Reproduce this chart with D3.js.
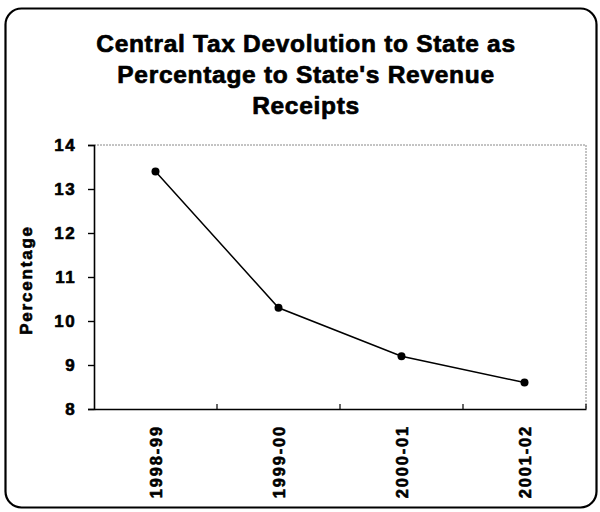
<!DOCTYPE html>
<html>
<head>
<meta charset="utf-8">
<script src="https://cdn.jsdelivr.net/npm/d3@7"></script>
<style>
  html, body { margin: 0; padding: 0; background: #fff; }
  svg text { font-family: "Liberation Sans", Arial, sans-serif; font-weight: bold; fill: #000; }
</style>
</head>
<body>
<svg id="chart" width="600" height="512"></svg>
<script>
// Fiscal years on the category axis
const years = ["1998-99", "1999-00", "2000-01", "2001-02"];
// Central tax devolution as % of state's revenue receipts
const shares = [13.4, 10.3, 9.2, 8.6];
// Value axis ticks
const yTicks = [8, 9, 10, 11, 12, 13, 14];
const titleLines = ["Central Tax Devolution to State as", "Percentage to State's Revenue", "Receipts"];

const svg = d3.select("#chart");
const plot = { left: 94, right: 586, top: 145, bottom: 409 };
const labelFont = "Liberation Sans, Arial, sans-serif";

// Heavy black lettering used for every label
function heavy(sel, size, spacing, weight) {
  sel.attr("font-size", size)
    .attr("font-family", labelFont)
    .attr("font-weight", "bold")
    .attr("letter-spacing", spacing)
    .attr("fill", "#000")
    .attr("stroke", "#000")
    .attr("stroke-width", weight)
    .attr("stroke-linejoin", "round");
}

// Rounded frame around the whole chart
svg.append("rect")
  .attr("x", 5.5).attr("y", 8.5).attr("width", 591).attr("height", 499)
  .attr("rx", 16).attr("ry", 16)
  .attr("fill", "none").attr("stroke", "#000").attr("stroke-width", 2.2);

// Title
svg.append("g").selectAll("text").data(titleLines).join("text")
  .attr("x", 306).attr("y", (d, i) => 52 + i * 31)
  .attr("text-anchor", "middle")
  .text(d => d)
  .call(heavy, 24.5, 0.7, 0.7);

const x = d3.scaleBand().domain(years).range([plot.left, plot.right]);
const y = d3.scaleLinear().domain([8, 14]).range([plot.bottom, plot.top]);

// Light dotted top and right edges of the plot area
svg.append("path")
  .attr("d", `M${plot.left},${plot.top}H${plot.right}V${plot.bottom}`)
  .attr("fill", "none").attr("stroke", "#888").attr("stroke-width", 1)
  .attr("stroke-dasharray", "2,1");

// Y axis
const yAxis = svg.append("g")
  .attr("transform", `translate(${plot.left},0)`)
  .call(d3.axisLeft(y).tickValues(yTicks).tickSize(6).tickPadding(12).tickFormat(d3.format("d")));
yAxis.select(".domain").attr("stroke", "#000").attr("stroke-width", 1.6);
yAxis.selectAll(".tick line").attr("stroke", "#000").attr("stroke-width", 1.4);
yAxis.selectAll("text").call(heavy, 17, 1.4, 0.6);

// X axis, ticks between categories
const xAxis = svg.append("g")
  .attr("transform", `translate(0,${plot.bottom})`)
  .call(d3.axisBottom(x).tickSize(0).tickPadding(0));
xAxis.select(".domain").attr("stroke", "#000").attr("stroke-width", 1.6);
xAxis.selectAll(".tick text")
  .call(heavy, 16.5, 1.8, 0.6)
  .attr("text-anchor", "end")
  .attr("dy", "0.35em")
  .attr("transform", "translate(1,16) rotate(-90)");
svg.append("g").selectAll("line").data(years).join("line")
  .attr("x1", d => x(d) + x.step())
  .attr("x2", d => x(d) + x.step())
  .attr("y1", plot.bottom).attr("y2", plot.bottom - 5)
  .attr("stroke", "#000").attr("stroke-width", 1.2);

// Y axis label
svg.append("text")
  .attr("transform", `translate(32,${(plot.top + plot.bottom) / 2 + 3}) rotate(-90)`)
  .attr("text-anchor", "middle")
  .text("Percentage")
  .call(heavy, 17, 1.8, 0.6);

// Series line and markers
const line = d3.line()
  .x((d, i) => x(years[i]) + x.bandwidth() / 2)
  .y(d => y(d));
svg.append("path").datum(shares)
  .attr("d", line)
  .attr("fill", "none").attr("stroke", "#000").attr("stroke-width", 1.5);
svg.append("g").selectAll("circle").data(shares).join("circle")
  .attr("cx", (d, i) => x(years[i]) + x.bandwidth() / 2)
  .attr("cy", d => y(d))
  .attr("r", 4)
  .attr("fill", "#000");
</script>
</body>
</html>
